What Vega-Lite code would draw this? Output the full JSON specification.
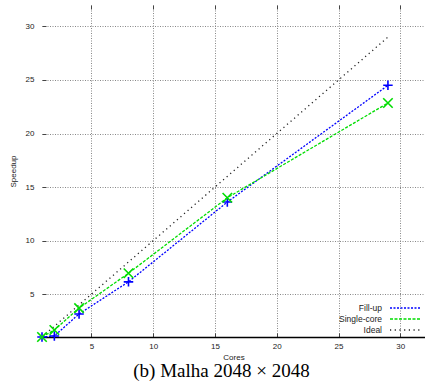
{
  "$schema": "https://vega.github.io/schema/vega-lite/v6.json",
  "width": 383,
  "height": 332,
  "autosize": "none",
  "padding": {"left": 42, "top": 5, "right": 0, "bottom": 48},
  "background": "white",
  "title": {
    "text": "(b)  Malha 2048 × 2048",
    "orient": "bottom",
    "font": "Liberation Serif",
    "fontSize": 19,
    "fontWeight": "normal",
    "color": "black",
    "offset": 1,
    "dx": -12
  },
  "config": {
    "view": {"stroke": null},
    "axis": {
      "labelFont": "Liberation Sans",
      "labelFontSize": 8,
      "labelColor": "#222",
      "titleFont": "Liberation Sans",
      "titleFontSize": 8,
      "titleFontWeight": "normal",
      "titleColor": "#222",
      "gridColor": "#888",
      "gridDash": [1, 1.5],
      "gridWidth": 1,
      "gridOpacity": 1,
      "tickColor": "#444",
      "tickSize": -4,
      "tickWidth": 1
    },
    "legend": {
      "labelFont": "Liberation Sans",
      "labelFontSize": 8.5,
      "labelColor": "#222",
      "rowPadding": 0,
      "symbolStrokeWidth": 1.3
    }
  },
  "data": {
    "values": [
      {"cores": 1, "speedup": 1.0, "series": "Fill-up"},
      {"cores": 2, "speedup": 1.1, "series": "Fill-up"},
      {"cores": 4, "speedup": 3.15, "series": "Fill-up"},
      {"cores": 8, "speedup": 6.15, "series": "Fill-up"},
      {"cores": 16, "speedup": 13.6, "series": "Fill-up"},
      {"cores": 29, "speedup": 24.5, "series": "Fill-up"},
      {"cores": 1, "speedup": 1.0, "series": "Single-core"},
      {"cores": 2, "speedup": 1.65, "series": "Single-core"},
      {"cores": 4, "speedup": 3.7, "series": "Single-core"},
      {"cores": 8, "speedup": 6.95, "series": "Single-core"},
      {"cores": 16, "speedup": 14.0, "series": "Single-core"},
      {"cores": 29, "speedup": 22.85, "series": "Single-core"},
      {"cores": 1, "speedup": 1, "series": "Ideal"},
      {"cores": 29, "speedup": 29, "series": "Ideal"}
    ]
  },
  "encoding": {
    "x": {
      "field": "cores",
      "type": "quantitative",
      "scale": {"domain": [1, 32], "nice": false, "zero": false}
    },
    "y": {
      "field": "speedup",
      "type": "quantitative",
      "scale": {"domain": [1, 32], "nice": false, "zero": false},
      "axis": {
        "title": "Speedup",
        "values": [5, 10, 15, 20, 25, 30],
        "domain": false,
        "labelPadding": 12,
        "titlePadding": 8
      }
    },
    "color": {
      "field": "series",
      "type": "nominal",
      "scale": {"domain": ["Fill-up", "Single-core", "Ideal"], "range": ["#0000ff", "#00dd00", "#222222"]},
      "legend": {
        "title": null,
        "orient": "bottom-right",
        "offset": 2,
        "symbolType": "M-3,0H3",
        "symbolSize": 100,
        "labelAlign": "right",
        "labelOffset": -29
      }
    }
  },
  "layer": [
    {
      "mark": {"type": "line", "strokeWidth": 1.3, "clip": true},
      "encoding": {
        "strokeDash": {
          "field": "series",
          "type": "nominal",
          "scale": {"domain": ["Fill-up", "Single-core", "Ideal"], "range": [[2, 1.5], [3, 1.5], [1.2, 3.5]]},
          "legend": {
            "title": null,
            "orient": "bottom-right",
            "offset": 2,
            "symbolType": "M-3,0H3",
            "symbolSize": 100,
            "labelAlign": "right",
            "labelOffset": -29
          }
        },
        "x": {
          "field": "cores",
          "type": "quantitative",
          "axis": {
            "title": "Cores",
            "values": [5, 10, 15, 20, 25, 30],
            "domainColor": "black",
            "domainWidth": 1.5,
            "labelPadding": 9,
            "titlePadding": 3
          }
        }
      }
    },
    {
      "transform": [{"filter": "datum.series !== 'Ideal'"}],
      "mark": {"type": "point", "filled": false, "strokeWidth": 1.6, "size": 90, "opacity": 1},
      "encoding": {
        "shape": {
          "field": "series",
          "type": "nominal",
          "scale": {"domain": ["Fill-up", "Single-core"], "range": ["M-1,0H1M0,-1V1", "M-1,-1L1,1M1,-1L-1,1"]},
          "legend": null
        },
        "x": {
          "field": "cores",
          "type": "quantitative",
          "axis": {
            "orient": "top",
            "title": null,
            "labels": false,
            "grid": false,
            "domain": false,
            "values": [5, 10, 15, 20, 25, 30]
          }
        }
      }
    }
  ],
  "resolve": {"axis": {"x": "independent"}}
}
